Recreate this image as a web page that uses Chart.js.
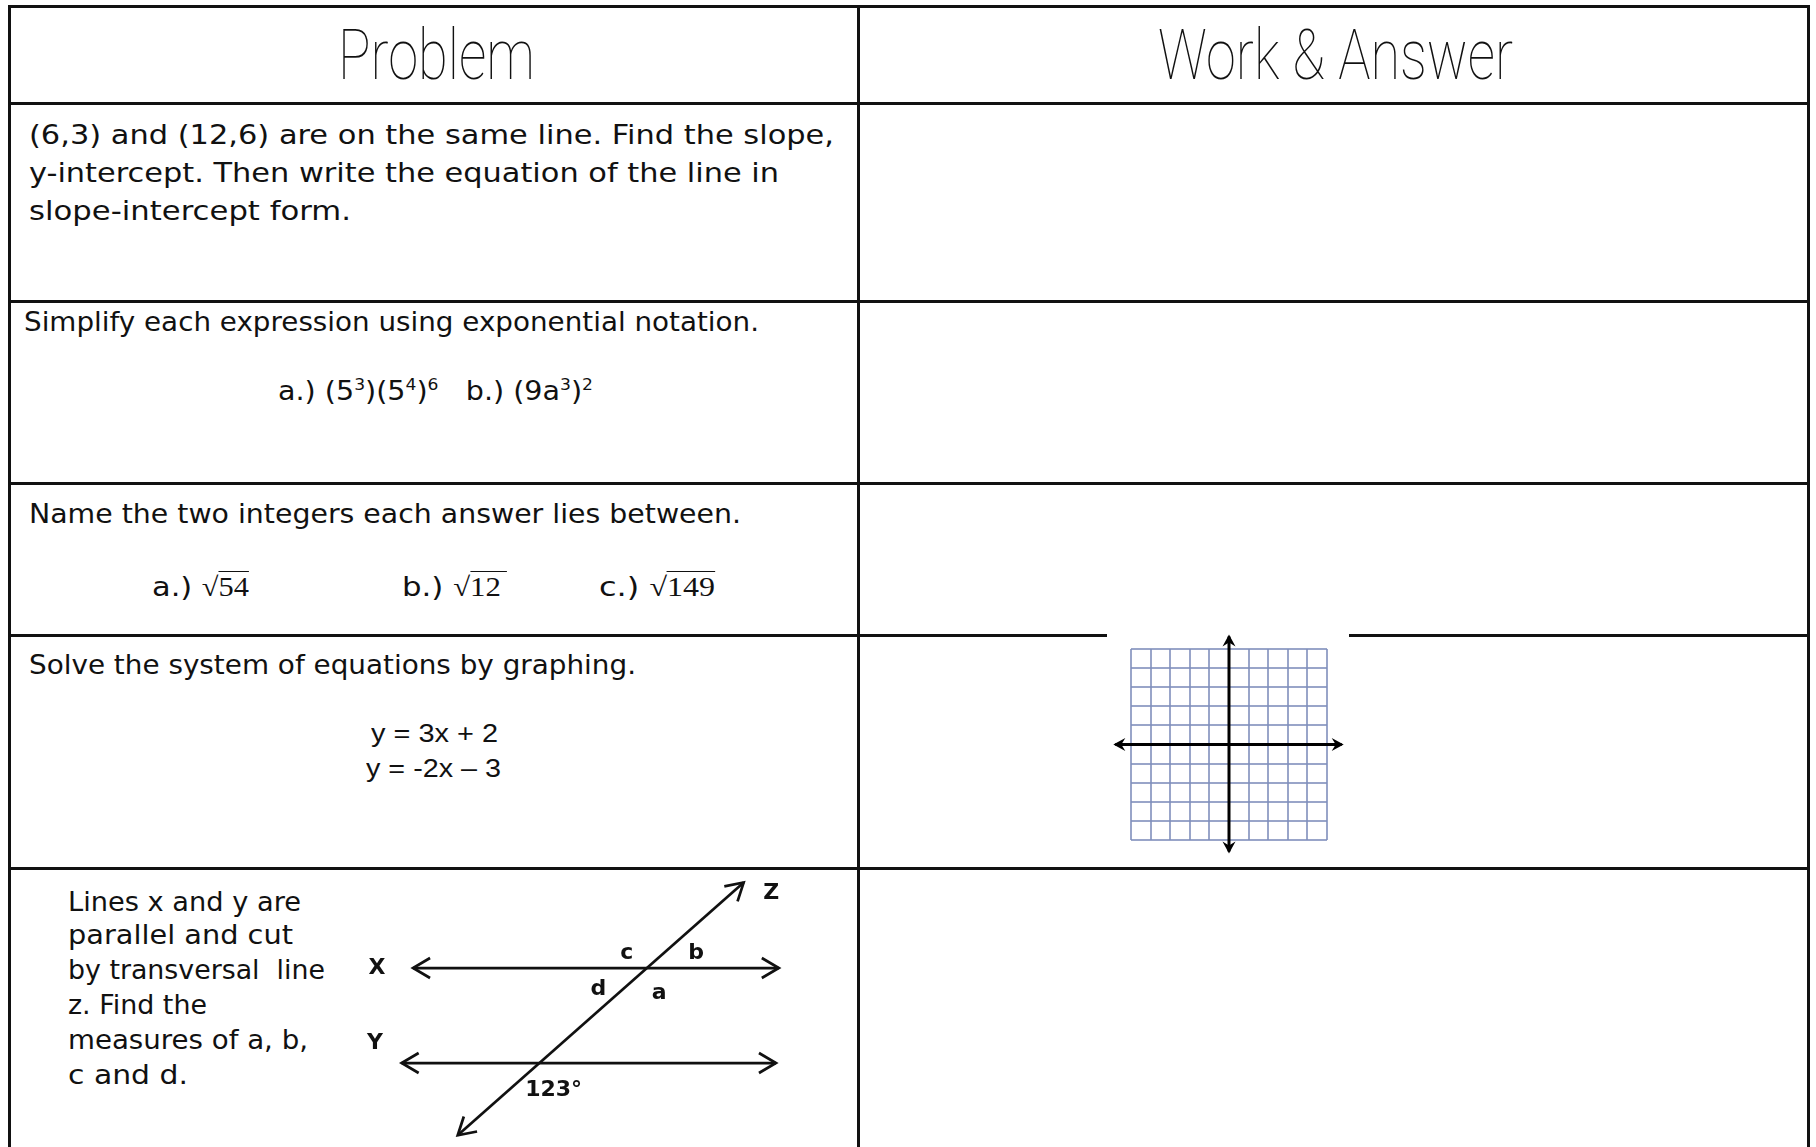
<!DOCTYPE html>
<html lang="en">
<head>
<meta charset="UTF-8">
<title>Review Worksheet</title>
<script src="https://cdn.jsdelivr.net/npm/chart.js@4.4.0/dist/chart.umd.min.js"></script>
<style>
  html, body { margin: 0; padding: 0; background: #fff; }
  body { width: 1816px; height: 1147px; position: relative; overflow: hidden; font-family: "DejaVu Sans", sans-serif; color: #111; }
  .rule { position: absolute; background: #111; z-index: 1; }
  .t { position: absolute; white-space: nowrap; font-size: 27px; line-height: 38px; transform-origin: 0 50%; }
  .small { font-size: 26px; line-height: 34px; }
  .head { font-family: Roboto, "Liberation Sans Narrow", sans-serif; font-weight: 100; font-size: 70px; line-height: 80px; }
  .eq { font-family: "Liberation Sans", Arial, sans-serif; font-size: 25px; }
  .sup { font-size: 0.6em; vertical-align: 0.6em; line-height: 0; }
  .rad { font-family: "Liberation Serif", "DejaVu Serif", serif; }
  .rad span { border-top: 1.5px solid #111; }
  canvas { position: absolute; z-index: 2; }
</style>
</head>
<body>
  <!-- table rules -->
  <div class="rule" style="left:8px;top:5px;width:1802px;height:3px"></div>
  <div class="rule" style="left:8px;top:5px;width:3px;height:1142px"></div>
  <div class="rule" style="left:1807px;top:5px;width:3px;height:1142px"></div>
  <div class="rule" style="left:857px;top:5px;width:3px;height:1142px"></div>
  <div class="rule" style="left:8px;top:102px;width:1802px;height:3px"></div>
  <div class="rule" style="left:8px;top:300px;width:1802px;height:3px"></div>
  <div class="rule" style="left:8px;top:482px;width:1802px;height:3px"></div>
  <div class="rule" style="left:8px;top:634px;width:1802px;height:3px"></div>
  <div class="rule" style="left:8px;top:867px;width:1802px;height:3px"></div>

  <!-- headers -->
  <div class="t head" style="left:338px;top:15px" data-w="197">Problem</div>
  <div class="t head" style="left:1158px;top:15px" data-w="355">Work &amp; Answer</div>

  <!-- row 1 -->
  <div class="t" style="left:29px;top:116px" data-w="805">(6,3) and (12,6) are on the same line. Find the slope,</div>
  <div class="t" style="left:29px;top:154px" data-w="750">y-intercept. Then write the equation of the line in</div>
  <div class="t" style="left:29px;top:192px" data-w="322">slope-intercept form.</div>

  <!-- row 2 -->
  <div class="t" style="left:24px;top:303px" data-w="735">Simplify each expression using exponential notation.</div>
  <div class="t" style="left:278px;top:372px" data-w="315">a.) (5<span class="sup">3</span>)(5<span class="sup">4</span>)<span class="sup">6</span> &nbsp; b.) (9a<span class="sup">3</span>)<span class="sup">2</span></div>

  <!-- row 3 -->
  <div class="t" style="left:29px;top:495px" data-w="712">Name the two integers each answer lies between.</div>
  <div class="t" style="left:152px;top:568px" data-w="97">a.) <span class="rad">√<span>54</span></span></div>
  <div class="t" style="left:402px;top:568px" data-w="105">b.) <span class="rad">√<span>12&thinsp;</span></span></div>
  <div class="t" style="left:599px;top:568px" data-w="116">c.) <span class="rad">√<span>149</span></span></div>

  <!-- row 4 -->
  <div class="t" style="left:29px;top:646px" data-w="607">Solve the system of equations by graphing.</div>
  <div class="t eq" style="left:371px;top:714px" data-w="127">y = 3x + 2</div>
  <div class="t eq" style="left:366px;top:749px" data-w="135">y = -2x – 3</div>

  <!-- row 5 -->
  <div class="t small" style="left:68px;top:885px" data-w="233">Lines x and y are</div>
  <div class="t small" style="left:68px;top:918px" data-w="225">parallel and cut</div>
  <div class="t small" style="left:68px;top:953px" data-w="257">by transversal&nbsp; line</div>
  <div class="t small" style="left:68px;top:988px" data-w="139">z. Find the</div>
  <div class="t small" style="left:68px;top:1023px" data-w="240">measures of a, b,</div>
  <div class="t small" style="left:68px;top:1058px" data-w="120">c and d.</div>

  <canvas id="grid" width="242" height="240" style="left:1107px;top:625px;background:#fff"></canvas>
  <canvas id="lines" width="500" height="275" style="left:300px;top:872px"></canvas>

<script>
// coordinate grid: -5..5 on both axes, axes drawn a bit past the grid
const gridMin = -5;
const gridMax = 5;
const xAxisLine = [{x: -5.8, y: 0}, {x: 5.75, y: 0}];
const yAxisLine = [{x: 0, y: 5.65}, {x: 0, y: -5.6}];

// parallel lines cut by a transversal (unit = spacing between X and Y)
const lineX = [{x: -1.33, y: 1}, {x: 2.52, y: 1}];
const lineY = [{x: -1.45, y: 0}, {x: 2.49, y: 0}];
const lineZ = [{x: -0.86, y: -0.76}, {x: 2.15, y: 1.9}];
const labelText = ['Z', 'X', 'Y', 'c', 'b', 'd', 'a', '123°'];
const labelX = [2.44, -1.71, -1.73, 0.92, 1.65, 0.62, 1.26, 0.15];
const labelY = [1.79, 1.0, 0.21, 1.16, 1.16, 0.78, 0.73, -0.29];

// squeeze each text line to the width it has in the worksheet
document.querySelectorAll('[data-w]').forEach(el => {
    const w = el.getBoundingClientRect().width;
    el.style.transform = 'scaleX(' + (el.dataset.w / w) + ')';
});

const arrowHeads = {
    id: 'arrowHeads',
    afterDatasetsDraw(chart) {
        const ctx = chart.ctx;
        chart.data.datasets.forEach((ds, i) => {
            if (!ds.arrows) return;
            const pts = chart.getDatasetMeta(i).data;
            const ends = [[pts[1], pts[0]], [pts[pts.length - 2], pts[pts.length - 1]]];
            ends.forEach(([from, tip]) => {
                const ang = Math.atan2(tip.y - from.y, tip.x - from.x);
                ctx.save();
                ctx.translate(tip.x, tip.y);
                ctx.rotate(ang);
                ctx.beginPath();
                if (ds.arrows === 'filled') {
                    ctx.moveTo(2, 0);
                    ctx.lineTo(-10, -6.5);
                    ctx.lineTo(-6, 0);
                    ctx.lineTo(-10, 6.5);
                    ctx.closePath();
                    ctx.fillStyle = ds.borderColor;
                    ctx.fill();
                } else {
                    ctx.moveTo(-17, -10);
                    ctx.lineTo(0, 0);
                    ctx.lineTo(-17, 10);
                    ctx.strokeStyle = ds.borderColor;
                    ctx.lineWidth = ds.borderWidth;
                    ctx.lineJoin = 'miter';
                    ctx.stroke();
                }
                ctx.restore();
            });
        });
    }
};

const angleLabels = {
    id: 'angleLabels',
    afterDatasetsDraw(chart) {
        const ctx = chart.ctx;
        const xs = chart.scales.x, ys = chart.scales.y;
        ctx.save();
        ctx.fillStyle = '#111';
        ctx.font = 'bold 22px "DejaVu Sans", sans-serif';
        ctx.textAlign = 'center';
        ctx.textBaseline = 'middle';
        labelText.forEach((txt, i) => {
            ctx.fillText(txt, xs.getPixelForValue(labelX[i]), ys.getPixelForValue(labelY[i]));
        });
        ctx.restore();
    }
};

const gridColor = 'rgba(128, 142, 188, 0.8)';
const axisStyle = {showLine: true, borderColor: '#000', borderWidth: 3, pointRadius: 0, clip: false, arrows: 'filled'};

new Chart(document.getElementById('grid'), {
    type: 'scatter',
    data: {
        datasets: [
            Object.assign({data: xAxisLine}, axisStyle),
            Object.assign({data: yAxisLine}, axisStyle)
        ]
    },
    options: {
        responsive: false,
        animation: false,
        layout: {padding: {left: 24, right: 22, top: 24, bottom: 25}},
        plugins: {legend: {display: false}, tooltip: {enabled: false}},
        scales: {
            x: {
                type: 'linear', min: gridMin, max: gridMax,
                ticks: {display: false, stepSize: 1},
                grid: {color: gridColor, lineWidth: 2, drawTicks: false},
                border: {display: false}
            },
            y: {
                type: 'linear', min: gridMin, max: gridMax,
                ticks: {display: false, stepSize: 1},
                grid: {color: gridColor, lineWidth: 2, drawTicks: false},
                border: {display: false}
            }
        }
    },
    plugins: [arrowHeads]
});

const lineStyle = {showLine: true, borderColor: '#111', borderWidth: 2.7, pointRadius: 0, clip: false, arrows: 'open'};

new Chart(document.getElementById('lines'), {
    type: 'scatter',
    data: {
        datasets: [
            Object.assign({data: lineX}, lineStyle),
            Object.assign({data: lineY}, lineStyle),
            Object.assign({data: lineZ}, lineStyle)
        ]
    },
    options: {
        responsive: false,
        animation: false,
        plugins: {legend: {display: false}, tooltip: {enabled: false}},
        scales: {
            x: {type: 'linear', display: false, min: -2.52, max: 2.743},
            y: {type: 'linear', display: false, min: -0.884, max: 2.011}
        }
    },
    plugins: [arrowHeads, angleLabels]
});
</script>
</body>
</html>
